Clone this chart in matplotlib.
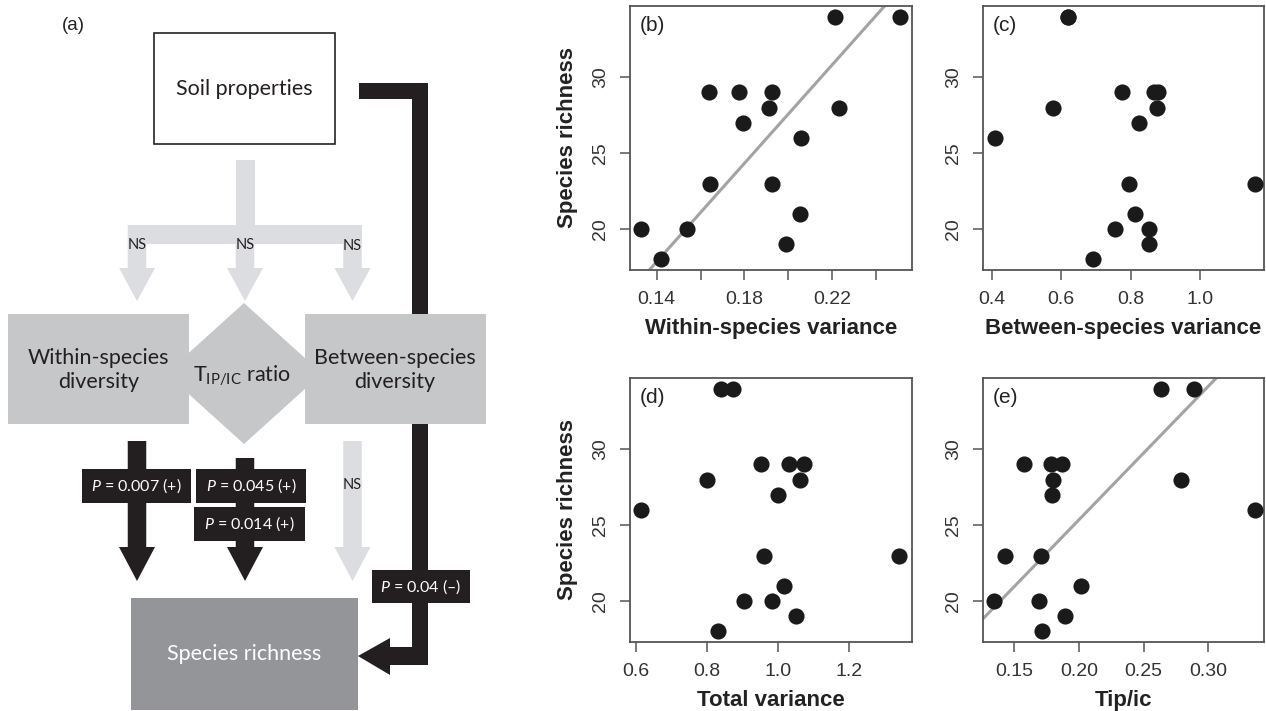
import numpy as np
import matplotlib
matplotlib.use('Agg')
import matplotlib.pyplot as plt
from matplotlib.patches import Polygon, Rectangle

# ---------------- data ----------------
richness = [20, 18, 20, 29, 23, 29, 27, 28, 29, 23, 19, 26, 21, 34, 28, 34]
within_var = [0.1327, 0.1418, 0.1537, 0.1639, 0.1643, 0.1777, 0.1793, 0.1914,
              0.1925, 0.1925, 0.1990, 0.2058, 0.2055, 0.2214, 0.2232, 0.2508]
between_var = [0.852, 0.691, 0.754, 0.868, 0.795, 0.776, 0.823, 0.876,
               0.880, 1.159, 0.852, 0.410, 0.813, 0.621, 0.576, 0.621]
total_var = [0.983, 0.832, 0.905, 1.032, 0.961, 0.953, 1.002, 1.063,
             1.074, 1.343, 1.051, 0.613, 1.017, 0.840, 0.800, 0.873]
tip_ic = [0.1345, 0.1711, 0.1690, 0.1577, 0.1704, 0.1866, 0.1790, 0.1796,
          0.1784, 0.1428, 0.1891, 0.3358, 0.2013, 0.2637, 0.2786, 0.2887]

b_ticks = [0.14, 0.16, 0.18, 0.20, 0.22, 0.24]
b_ticklabels = ['0.14', '', '0.18', '', '0.22', '']
c_ticks = [0.4, 0.6, 0.8, 1.0]
c_ticklabels = ['0.4', '0.6', '0.8', '1.0']
d_ticks = [0.6, 0.8, 1.0, 1.2]
d_ticklabels = ['0.6', '0.8', '1.0', '1.2']
e_ticks = [0.15, 0.20, 0.25, 0.30]
e_ticklabels = ['0.15', '0.20', '0.25', '0.30']
y_ticks = [20, 25, 30]

p_labels = ['$P$ = 0.007 (+)', '$P$ = 0.045 (+)', '$P$ = 0.014 (+)', '$P$ = 0.04 (\u2013)']

# ---------------- style ----------------
plt.rcParams['mathtext.fontset'] = 'custom'
plt.rcParams['mathtext.rm'] = 'Lato'
plt.rcParams['mathtext.it'] = 'Lato:italic'
DFONT = ['Lato', 'DejaVu Sans']
SFONT = ['Liberation Sans', 'DejaVu Sans']

W, H = 1266, 711
fig = plt.figure(figsize=(W / 100, H / 100), dpi=100)

# ---------------- panel (a): diagram in pixel coordinates ----------------
axd = fig.add_axes([0, 0, 1, 1])
axd.set_xlim(0, W)
axd.set_ylim(H, 0)
axd.axis('off')

LIGHT = '#dcdde0'
BOX = '#c6c7c9'
DARKBOX = '#939598'
BLACK = '#231f20'


def down_arrow(xc, y0, y1, ytip, sw, hw, color, z=2):
    pts = [(xc - sw / 2, y0), (xc + sw / 2, y0), (xc + sw / 2, y1), (xc + hw / 2, y1),
           (xc, ytip), (xc - hw / 2, y1), (xc - sw / 2, y1)]
    axd.add_patch(Polygon(pts, closed=True, fc=color, ec='none', zorder=z))


axd.text(73, 25, '(a)', fontsize=13.5, family=SFONT, ha='center', va='center', color='#222222')

# Soil properties box
axd.add_patch(Rectangle((154, 33), 181, 111, fc='white', ec='#222222', lw=1.2, zorder=2))
axd.text(244.5, 89, 'Soil properties', fontsize=15.5, family=DFONT, ha='center', va='center',
         color='#231f20', zorder=5)

# light gray NS connectors from soil properties
axd.add_patch(Rectangle((236, 160), 18.5, 84, fc=LIGHT, ec='none', zorder=2))
axd.add_patch(Rectangle((128, 225), 234, 19, fc=LIGHT, ec='none', zorder=2))
for xc in (137, 245, 352.5):
    down_arrow(xc, 225, 268, 301, 18.5, 36, LIGHT)
for xc, yy in ((137, 245), (245, 245), (352.5, 246)):
    axd.text(xc, yy, 'NS', fontsize=10.5, family=DFONT, ha='center', va='center',
             color=BLACK, zorder=5)

# black path from soil properties to species richness
path = [(359, 83), (428, 83), (428, 665), (390, 665), (390, 675), (358, 656),
        (390, 638), (390, 647), (412, 647), (412, 99), (359, 99)]
axd.add_patch(Polygon(path, closed=True, fc=BLACK, ec='none', zorder=1))

# diamond
dc_x, dc_y, dhw, dhh = 244, 373.5, 78, 70.5
axd.add_patch(Polygon([(dc_x, dc_y - dhh), (dc_x + dhw, dc_y), (dc_x, dc_y + dhh), (dc_x - dhw, dc_y)],
                      closed=True, fc=BOX, ec='none', zorder=1.5))
# boxes
axd.add_patch(Rectangle((8, 314), 181, 110, fc=BOX, ec='none', zorder=2))
axd.add_patch(Rectangle((305, 314), 181, 110, fc=BOX, ec='none', zorder=2))
axd.text(98.5, 370, 'Within-species\ndiversity', fontsize=15.5, family=DFONT, ha='center',
         va='center', color=BLACK, linespacing=1.2, zorder=5)
axd.text(395, 370, 'Between-species\ndiversity', fontsize=15.5, family=DFONT, ha='center',
         va='center', color=BLACK, linespacing=1.2, zorder=5)
axd.text(242, 376, 'T$_{\\mathrm{IP/IC}}$ ratio', fontsize=15.5, family=DFONT, ha='center',
         va='center', color=BLACK, zorder=5)

# arrows to species richness
down_arrow(137, 441, 547, 581, 18.5, 36, BLACK)
down_arrow(245, 458, 547, 581, 18.5, 36, BLACK)
down_arrow(352.5, 441, 547, 581, 18.5, 36, LIGHT)
axd.text(352.5, 485, 'NS', fontsize=10.5, family=DFONT, ha='center', va='center',
         color=BLACK, zorder=5)

# P-value boxes
for (x0, y0, w, h), lab in zip([(82, 469, 109, 34), (196, 469, 110, 34),
                                 (194, 507, 111, 34), (372, 570, 98, 33)], p_labels):
    axd.add_patch(Rectangle((x0, y0), w, h, fc=BLACK, ec='none', zorder=3))
    axd.text(x0 + w / 2, y0 + h / 2, lab, fontsize=11.5, family=DFONT, ha='center',
             va='center', color='white', zorder=5)

# species richness box
axd.add_patch(Rectangle((131, 598), 227, 112, fc=DARKBOX, ec='none', zorder=2))
axd.text(244.5, 654, 'Species richness', fontsize=15.5, family=DFONT, ha='center',
         va='center', color='white', zorder=5)


# ---------------- scatter panels ----------------
def sma_line(x, y):
    x = np.asarray(x, float)
    y = np.asarray(y, float)
    r = np.corrcoef(x, y)[0, 1]
    slope = np.sign(r) * y.std() / x.std()
    return y.mean() - slope * x.mean(), slope


def px_rect(left, top, right, bottom):
    return [left / W, 1 - bottom / H, (right - left) / W, (bottom - top) / H]


def panel(rect, x, xlim, xticks, xticklabels, xlabel, letter, ylabel, fit):
    ax = fig.add_axes(rect)
    ax.scatter(x, richness, s=135, c='#1a1a1a', linewidths=0, zorder=3)
    ax.set_xlim(*xlim)
    ax.set_ylim(17.3, 34.7)
    if fit:
        a, b = sma_line(x, richness)
        xs = np.array(xlim)
        ax.plot(xs, a + b * xs, color='#a3a3a3', lw=2.2, zorder=2)
    ax.set_xticks(xticks)
    ax.set_xticklabels(xticklabels)
    ax.set_yticks(y_ticks)
    ax.set_yticklabels([str(t) for t in y_ticks], rotation=90, va='center')
    for s in ax.spines.values():
        s.set_color('#555555')
        s.set_linewidth(1.3)
    ax.tick_params(direction='out', length=7, width=1.1, color='#555555',
                   labelsize=14, labelcolor='#333333', pad=8)
    for lab in ax.get_xticklabels() + ax.get_yticklabels():
        lab.set_family(SFONT)
    ax.set_xlabel(xlabel, fontsize=16, fontweight='bold', family=SFONT,
                  color='#222222', labelpad=7)
    if ylabel:
        ax.set_ylabel(ylabel, fontsize=16, fontweight='bold', family=SFONT,
                      color='#222222', labelpad=10)
    ax.text(0.035, 0.925, letter, transform=ax.transAxes, fontsize=15, family=SFONT,
            ha='left', va='center', color='#222222')
    return ax


panel(px_rect(630, 6, 912, 270), within_var, (0.1278, 0.2565), b_ticks, b_ticklabels,
      'Within-species variance', '(b)', 'Species richness', True)
panel(px_rect(983, 6, 1264, 270), between_var, (0.375, 1.184), c_ticks, c_ticklabels,
      'Between-species variance', '(c)', None, False)
panel(px_rect(630, 378, 912, 642), total_var, (0.583, 1.379), d_ticks, d_ticklabels,
      'Total variance', '(d)', 'Species richness', False)
panel(px_rect(983, 378, 1264, 642), tip_ic, (0.1258, 0.3431), e_ticks, e_ticklabels,
      'Tip/ic', '(e)', None, True)

fig.savefig('out.png', dpi=100)
